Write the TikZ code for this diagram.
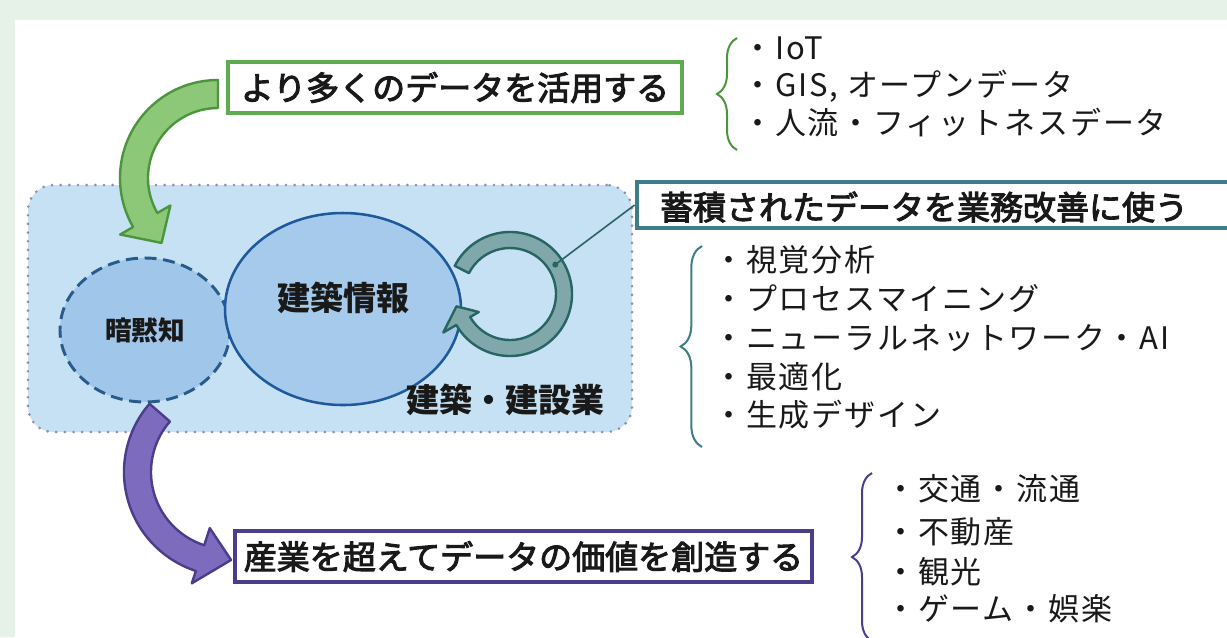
\documentclass[tikz,border=0pt]{standalone}
\usepackage{fontspec}
\setmainfont{Noto Sans CJK JP}
\newfontfamily\jplist[LetterSpace=6]{Noto Sans CJK JP}
\newfontfamily\jptitle[FakeBold=3]{Noto Sans CJK JP}
\usetikzlibrary{shapes.geometric,decorations.pathreplacing}
\definecolor{framegreen}{RGB}{230,242,232}
\definecolor{regionblue}{RGB}{198,225,243}
\definecolor{regiondot}{RGB}{140,140,180}
\definecolor{tacitfill}{RGB}{160,198,234}
\definecolor{tacitdraw}{RGB}{40,90,140}
\definecolor{infofill}{RGB}{166,202,236}
\definecolor{infodraw}{RGB}{30,90,155}
\definecolor{ringfill}{RGB}{128,168,170}
\definecolor{ringdraw}{RGB}{40,100,100}
\definecolor{gfill}{RGB}{140,200,120}
\definecolor{gdraw}{RGB}{75,150,60}
\definecolor{gbox}{RGB}{95,172,80}
\definecolor{tbox}{RGB}{60,125,135}
\definecolor{pfill}{RGB}{125,108,190}
\definecolor{pdraw}{RGB}{75,60,140}
\definecolor{txt}{RGB}{25,25,25}
\newcommand\mytitlefont{\jptitle\fontsize{24.75pt}{26pt}\selectfont}
\newcommand\mylistfont{\jplist\fontsize{23.25pt}{25pt}\selectfont}
\newcommand\myinfofont{\fontsize{24.75pt}{26pt}\selectfont\bfseries}
\newcommand\mytacitfont{\fontsize{20pt}{22pt}\selectfont\bfseries}
\begin{document}
\begin{tikzpicture}[x=0.75pt,y=-0.75pt,
  titlebox/.style={draw, line width=3.5pt, fill=white, inner sep=0pt, minimum height=38.25pt, font=\mytitlefont, text=txt},
  litem/.style={anchor=west, inner sep=0pt, font=\mylistfont, text=txt, text height=0.8em, text depth=0.1em},
  lbrace/.style={decorate, decoration={brace, amplitude=15pt}, line width=1.5pt},
  bigarrow/.style={line width=1.8pt, line join=round},
]
\useasboundingbox (0,0) rectangle (1227,637);
\clip (0,0) rectangle (1227,637);
\fill[framegreen] (0,0) rectangle (1227,637);
\fill[white] (15,20) rectangle (1227,637);

% industry region
\node[draw=regiondot, fill=regionblue, rounded corners=19pt, line width=2.2pt,
  dash pattern=on 0pt off 6.5pt, line cap=round, minimum width=453pt,
  minimum height=185.25pt, inner sep=0pt] (industry) at (330,308.5) {};

% tacit knowledge
\node[ellipse, draw=tacitdraw, fill=tacitfill, line width=2.2pt, dash pattern=on 9pt off 5pt,
  minimum width=127.5pt, minimum height=108pt, inner sep=0pt, font=\mytacitfont, text=txt]
  (tacit) at (145,330) {暗黙知};

% building information
\node[ellipse, draw=infodraw, fill=infofill, line width=1.9pt,
  minimum width=177pt, minimum height=144pt, inner sep=0pt] (info) at (343,309) {};
\node[font=\myinfofont, text=txt, inner sep=0pt] (infolabel) at (343,298) {建築情報};
\node[font=\myinfofont, text=txt, inner sep=0pt] (indlabel) at (505,400) {建築・建設業};

% ring arrow
\begin{scope}[shift={(510,294)}]
\draw[bigarrow, draw=ringdraw, fill=ringfill] (-153:62) arc[start angle=-153,end angle=150,radius=62]
  -- (150:77) -- (167:55) -- (150:36) -- (150:46) arc[start angle=150,end angle=-153,radius=46] -- cycle;
\coordinate (ringdot) at (-33:54);
\end{scope}

% boxes
\node[titlebox, draw=tbox, minimum width=452.25pt, minimum height=34.5pt] (tealbox) at (938.5,205) {};
\node[font=\mytitlefont, text=txt, inner sep=0pt] (tealtext) at (924,207) {蓄積されたデータを業務改善に使う};
\draw[ringdraw, line width=1.2pt] (ringdot) -- (tealbox.west);
\fill[ringdraw] (ringdot) circle[radius=3];

\node[titlebox, draw=gbox, minimum width=340.5pt] (greenbox) at (455,87.5) {より多くのデータを活用する};
\node[titlebox, draw=pdraw, minimum width=432.75pt] (purplebox) at (523.5,556.5) {産業を超えてデータの価値を創造する};

% green arrow
\begin{scope}[shift={(218,178)}]
\draw[bigarrow, draw=gdraw, fill=gfill] (270:98) arc[start angle=270,end angle=150,radius=98]
  -- (150:113) -- (131:86) -- (150:55) -- (150:70) arc[start angle=150,end angle=270,radius=70] -- cycle;
\end{scope}

% purple arrow
\begin{scope}[shift={(228,472)}]
\draw[bigarrow, draw=pdraw, fill=pfill] (221:104) arc[start angle=221,end angle=108,radius=104]
  -- (108:117) -- (88:88) -- (108:59) -- (108:77) arc[start angle=108,end angle=221,radius=77] -- cycle;
\end{scope}

% list 1
\draw[lbrace, draw=gdraw] (737,150) -- (737,38);
\node[litem] (l1a) at (742,55) {・IoT};
\node[litem] (l1b) at (742,92) {・GIS, オープンデータ};
\node[litem] (l1c) at (742,130) {・人流・フィットネスデータ};

% list 2
\draw[lbrace, draw=tbox, decoration={amplitude=16pt}] (702,447) -- (702,246);
\node[litem] (l2a) at (713,267) {・視覚分析};
\node[litem] (l2b) at (713,306) {・プロセスマイニング};
\node[litem] (l2c) at (713,345) {・ニューラルネットワーク・AI};
\node[litem] (l2d) at (713,384) {・最適化};
\node[litem] (l2e) at (713,422) {・生成デザイン};

% list 3
\draw[lbrace, draw=pdraw] (872,641) -- (872,473);
\node[litem] (l3a) at (885,496) {・交通・流通};
\node[litem] (l3b) at (885,539) {・不動産};
\node[litem] (l3c) at (885,579) {・観光};
\node[litem] (l3d) at (885,616) {・ゲーム・娯楽};
\end{tikzpicture}
\end{document}
